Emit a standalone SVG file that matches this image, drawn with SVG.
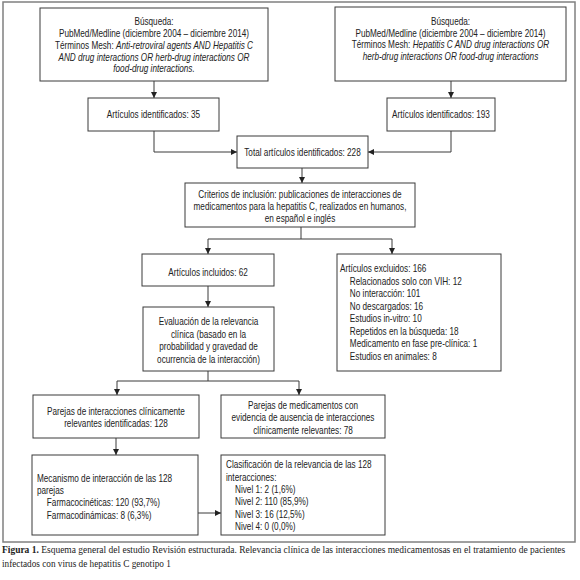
<svg xmlns="http://www.w3.org/2000/svg" width="580" height="580" viewBox="0 0 580 580">
<style>
.box{fill:#fff;stroke:#3a3a3a;stroke-width:1}
.t{font-family:"Liberation Sans",Arial,sans-serif;font-size:10px;fill:#222}
.c{text-anchor:middle}
.i{font-style:italic}
.ln{fill:none;stroke:#3a3a3a;stroke-width:1}
.cap{font-family:"Liberation Serif","Times New Roman",serif;font-size:10.5px;fill:#222}
</style>
<defs>
<marker id="ah" viewBox="0 0 8 8" refX="8" refY="4" markerWidth="6" markerHeight="6" markerUnits="userSpaceOnUse" orient="auto">
<path d="M0,0 L8,4 L0,8 Z" fill="#222"/>
</marker>
</defs>
<rect x="3" y="2" width="572" height="540" fill="#fff" stroke="#808080" stroke-width="1.5"/>

<g id="connectors">
<path class="ln" d="M154,81 V98" marker-end="url(#ah)"/>
<path class="ln" d="M451,81 V98" marker-end="url(#ah)"/>
<path class="ln" d="M154,131 V152 H237" marker-end="url(#ah)"/>
<path class="ln" d="M451,131 V152 H368" marker-end="url(#ah)"/>
<path class="ln" d="M302,168 V183" marker-end="url(#ah)"/>
<path class="ln" d="M301,227 V239"/>
<path class="ln" d="M208,239 H392"/>
<path class="ln" d="M208,239 V254" marker-end="url(#ah)"/>
<path class="ln" d="M392,239 V254" marker-end="url(#ah)"/>
<path class="ln" d="M208,286 V307" marker-end="url(#ah)"/>
<path class="ln" d="M208,371 V381"/>
<path class="ln" d="M117,381 H299"/>
<path class="ln" d="M117,381 V395" marker-end="url(#ah)"/>
<path class="ln" d="M299,381 V395" marker-end="url(#ah)"/>
<path class="ln" d="M116,438 V455" marker-end="url(#ah)"/>
<path class="ln" d="M198,513 H221" marker-end="url(#ah)"/>
</g>

<g id="busqueda1">
<rect class="box" x="40" y="8" width="228" height="73"/>
<g transform="matrix(0.82,0,0,1,27.72,0)">
<text class="t c" x="154" y="25.5">Búsqueda:</text>
<text class="t c" x="154" y="37.2">PubMed/Medline (diciembre 2004 – diciembre 2014)</text>
<text class="t c" x="154" y="48.9">Términos Mesh: <tspan class="i">Anti-retroviral agents AND Hepatitis C</tspan></text>
<text class="t c i" x="154" y="60.6">AND drug interactions OR herb-drug interactions OR</text>
<text class="t c i" x="154" y="72.3">food-drug interactions.</text>
</g>
</g>

<g id="busqueda2">
<rect class="box" x="335" y="7" width="231" height="74"/>
<g transform="matrix(0.82,0,0,1,81.09,0)">
<text class="t c" x="450.5" y="25.5">Búsqueda:</text>
<text class="t c" x="450.5" y="37">PubMed/Medline (diciembre 2004 – diciembre 2014)</text>
<text class="t c" x="450.5" y="48.5">Términos Mesh: <tspan class="i">Hepatitis C AND drug interactions OR</tspan></text>
<text class="t c i" x="450.5" y="60">herb-drug interactions OR food-drug interactions</text>
</g>
</g>

<g id="ident35">
<rect class="box" x="88" y="98" width="131" height="33"/>
<g transform="matrix(0.82,0,0,1,27.63,0)">
<text class="t c" x="153.5" y="118.5">Artículos identificados: 35</text>
</g>
</g>

<g id="ident193">
<rect class="box" x="387" y="98" width="108" height="33"/>
<g transform="matrix(0.82,0,0,1,79.38,0)">
<text class="t c" x="441" y="118.5">Artículos identificados: 193</text>
</g>
</g>

<g id="total">
<rect class="box" x="237" y="136" width="131" height="32"/>
<g transform="matrix(0.82,0,0,1,54.45,0)">
<text class="t c" x="302.5" y="156.5">Total artículos identificados: 228</text>
</g>
</g>

<g id="criterios">
<rect class="box" x="185" y="183" width="230" height="44"/>
<g transform="matrix(0.82,0,0,1,54,0)">
<text class="t c" x="300" y="198.5">Criterios de inclusión: publicaciones de interacciones de</text>
<text class="t c" x="300" y="210.5">medicamentos para la hepatitis C, realizados en humanos,</text>
<text class="t c" x="300" y="222.5">en español e inglés</text>
</g>
</g>

<g id="incluidos">
<rect class="box" x="142" y="254" width="132" height="32"/>
<g transform="matrix(0.82,0,0,1,37.44,0)">
<text class="t c" x="208" y="276.5">Artículos incluidos: 62</text>
</g>
</g>

<g id="excluidos">
<rect class="box" x="337" y="254" width="164" height="117"/>
<g transform="matrix(0.82,0,0,1,61.2,0)">
<text class="t" x="340" y="272.5">Artículos excluidos: 166</text>
<text class="t" x="352" y="285">Relacionados solo con VIH: 12</text>
<text class="t" x="352" y="297.5">No interacción: 101</text>
<text class="t" x="352" y="310">No descargados: 16</text>
<text class="t" x="352" y="322.5">Estudios in-vitro: 10</text>
<text class="t" x="352" y="335">Repetidos en la búsqueda: 18</text>
<text class="t" x="352" y="347.5">Medicamento en fase pre-clínica: 1</text>
<text class="t" x="352" y="360">Estudios en animales: 8</text>
</g>
</g>

<g id="evaluacion">
<rect class="box" x="143" y="307" width="131" height="64"/>
<g transform="matrix(0.82,0,0,1,37.53,0)">
<text class="t c" x="208.5" y="325.5">Evaluación de la relevancia</text>
<text class="t c" x="208.5" y="338">clínica (basado en la</text>
<text class="t c" x="208.5" y="350.5">probabilidad y gravedad de</text>
<text class="t c" x="208.5" y="363">ocurrencia de la interacción)</text>
</g>
</g>

<g id="parejas128">
<rect class="box" x="33" y="395" width="166" height="43"/>
<g transform="matrix(0.82,0,0,1,20.88,0)">
<text class="t c" x="116" y="415.5">Parejas de interacciones clínicamente</text>
<text class="t c" x="116" y="427.5">relevantes identificadas: 128</text>
</g>
</g>

<g id="parejas78">
<rect class="box" x="221" y="395" width="164" height="43"/>
<g transform="matrix(0.82,0,0,1,54.54,0)">
<text class="t c" x="303" y="409.5">Parejas de medicamentos con</text>
<text class="t c" x="303" y="421.5">evidencia de ausencia de interacciones</text>
<text class="t c" x="303" y="434">clínicamente relevantes: 78</text>
</g>
</g>

<g id="mecanismo">
<rect class="box" x="32" y="455" width="166" height="80"/>
<g transform="matrix(0.82,0,0,1,6.66,0)">
<text class="t" x="37" y="482.5">Mecanismo de interacción de las 128</text>
<text class="t" x="37" y="494.5">parejas</text>
<text class="t" x="49" y="506.5">Farmacocinéticas: 120 (93,7%)</text>
<text class="t" x="49" y="519.5">Farmacodinámicas: 8 (6,3%)</text>
</g>
</g>

<g id="clasificacion">
<rect class="box" x="221" y="455" width="164" height="80"/>
<g transform="matrix(0.82,0,0,1,40.68,0)">
<text class="t" x="226" y="468.5">Clasificación de la relevancia de las 128</text>
<text class="t" x="226" y="481">interacciones:</text>
<text class="t" x="237" y="493">Nivel 1: 2 (1,6%)</text>
<text class="t" x="237" y="505.5">Nivel 2: 110 (85,9%)</text>
<text class="t" x="237" y="518">Nivel 3: 16 (12,5%)</text>
<text class="t" x="237" y="530.5">Nivel 4: 0 (0,0%)</text>
</g>
</g>

<g id="caption" transform="matrix(0.88,0,0,1,0.24,0)">
<text class="cap" x="2" y="553.5" textLength="640" lengthAdjust="spacingAndGlyphs"><tspan font-weight="bold">Figura 1.</tspan> Esquema general del estudio Revisión estructurada. Relevancia clínica de las interacciones medicamentosas en el tratamiento de pacientes</text>
<text class="cap" x="2" y="567.5">infectados con virus de hepatitis C genotipo 1</text>
</g>
</svg>
